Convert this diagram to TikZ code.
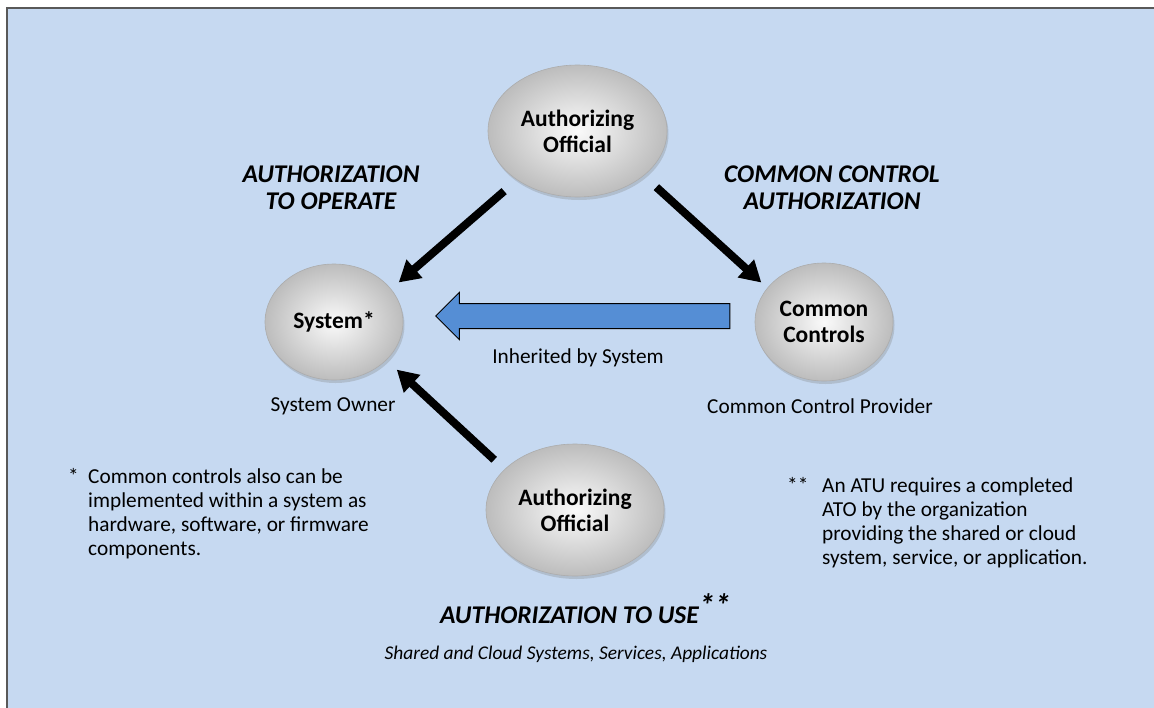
\documentclass[tikz,border=0pt]{standalone}
\usepackage{fontspec}
\setmainfont{Carlito}
\usetikzlibrary{shapes.geometric,shapes.arrows,arrows.meta,shadows}
\definecolor{bgblue}{HTML}{C6D9F1}
\definecolor{framegray}{HTML}{595959}
\definecolor{inhblue}{HTML}{558ED5}
\begin{document}
\begin{tikzpicture}[x=1pt,y=-1pt,
	role/.style={ellipse,inner sep=0pt,shading=radial,inner color=gray!4,outer color=gray!52,draw=gray!65,line width=0.6pt,
		drop shadow={shadow xshift=1.5pt,shadow yshift=-3pt,opacity=0.3},font=\fontsize{23.5}{26}\selectfont\bfseries,align=center},
	authline/.style={line width=8pt,-{Triangle[length=21pt,width=23pt]}},
	title/.style={font=\fontsize{25.5}{27}\selectfont\bfseries\itshape,align=center},
	plain/.style={font=\fontsize{21.3}{24}\selectfont,align=left,inner sep=0pt}]
		\useasboundingbox (0,0) rectangle (1154,707);
		\clip (0,0) rectangle (1154,707);
		\fill[white] (0,0) rectangle (1154,707);
		\draw[framegray,line width=2pt,fill=bgblue] (7,8) rectangle (1170,725);
		\node[role,minimum width=179pt,minimum height=132pt] (aotop) at (577.5,131) {Authorizing\\Official};
		\node[role,minimum width=138pt,minimum height=116pt] (sys) at (334,322) {System*};
		\node[role,minimum width=138pt,minimum height=118pt] (cc) at (824,322) {Common\\Controls};
		\node[role,minimum width=178pt,minimum height=132pt] (aobot) at (575,510) {Authorizing\\Official};
		\draw[authline,shorten <=17pt,shorten >=10pt] (aotop.219) -- (sys.30);
		\draw[authline,shorten <=17pt,shorten >=8pt] (aotop.-34) -- (cc.149);
		\draw[authline,shorten <=14pt,shorten >=14pt] (aobot.150) -- (sys.-36);
		\node[single arrow,shape border rotate=180,draw=black,line width=1pt,fill=inhblue,inner sep=0pt,
			text height=12pt,text depth=12pt,minimum height=294pt,single arrow head extend=11pt] (inherit) at (589,316) {};
		\node[plain] (inhlabel) at (578,358) {Inherited by System};
		\node[title] (ato) at (331,188) {AUTHORIZATION\\TO OPERATE};
		\node[title] (cca) at (832,188) {COMMON CONTROL\\AUTHORIZATION};
		\node[plain] (owner) at (333,406) {System Owner};
		\node[plain] (provider) at (820,406) {Common Control Provider};
		\node[plain,anchor=base west] (fnsys) at (68,483) {\begin{tabular}[t]{@{}p{20pt}@{}l@{}}
			* & Common controls also can be\\
			& implemented within a system as\\
			& hardware, software, or firmware\\
			& components.\end{tabular}};
		\node[plain,anchor=base west] (fnatu) at (787,492) {\begin{tabular}[t]{@{}p{35pt}@{}l@{}}
			** & An ATU requires a completed\\
			& ATO by the organization\\
			& providing the shared or cloud\\
			& system, service, or application.\end{tabular}};
		\node[title,anchor=base west,inner sep=0pt] (atu) at (440,623) {AUTHORIZATION TO USE\raisebox{0.25em}{\fontsize{32}{32}\selectfont**}};
		\node[plain,font=\fontsize{19.4}{24}\selectfont\itshape] (atusub) at (576,654) {Shared and Cloud Systems, Services, Applications};
	\end{tikzpicture}
\end{document}
